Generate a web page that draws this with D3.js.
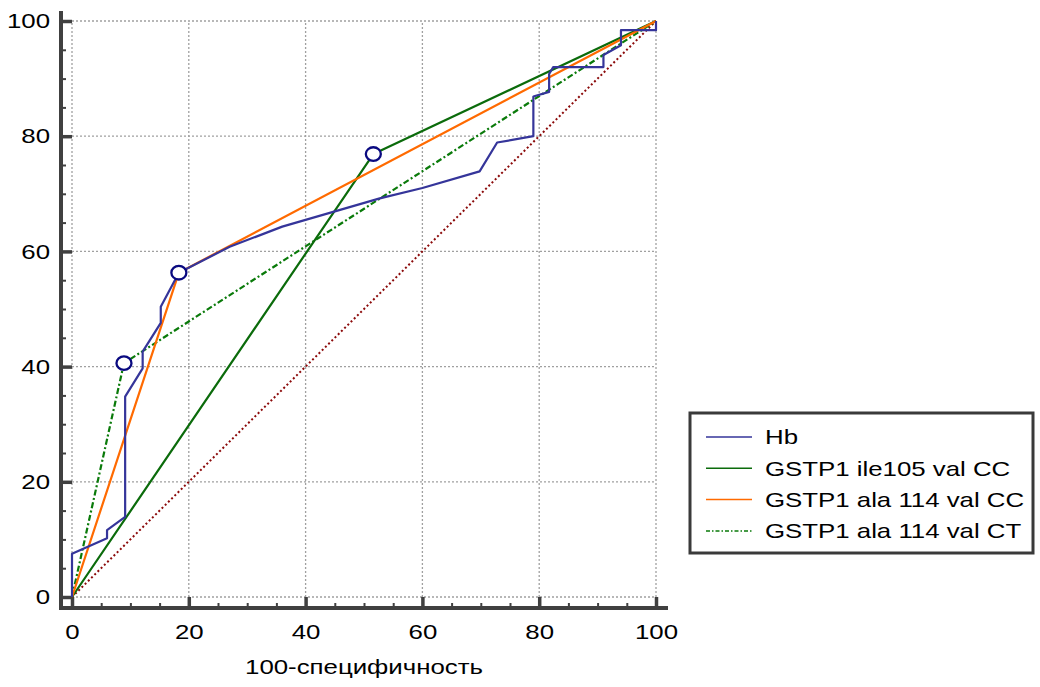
<!DOCTYPE html>
<html>
<head>
<meta charset="utf-8">
<script src="https://cdn.jsdelivr.net/npm/d3@7"></script>
<style>
  html, body { margin: 0; padding: 0; background: #fff; }
  svg { display: block; font-family: "Liberation Sans", Arial, sans-serif; }
</style>
</head>
<body>
<svg id="chart" width="1040" height="687"></svg>
<script>
// ---- data ----
const xTicks = [0, 20, 40, 60, 80, 100];
const yTicks = [0, 20, 40, 60, 80, 100];
const minorTicks = [5, 10, 15, 25, 30, 35, 45, 50, 55, 65, 70, 75, 85, 90, 95];
const xTitle = "100-специфичность";

const seriesNames = ["Hb", "GSTP1 ile105 val CC", "GSTP1 ala 114 val CC", "GSTP1 ala 114 val CT"];
const hbX = [0,0,6,6,9.1,9.1,12.1,12.1,15.2,15.2,18.3,27,36,52.7,60,69.8,72.8,79,79,81.7,81.7,82.4,91,91,94,94,100,100];
const hbY = [0,7.5,10.2,11.6,13.9,34.8,39.7,42.6,47.6,50.4,56.3,60.8,64.3,69.2,71,73.9,78.9,80,86.9,87.7,90.8,92,92,94.1,95.8,98.4,98.4,100];
const ileX = [0, 51.6, 100];
const ileY = [0, 76.9, 100];
const alaCCX = [0, 18.3, 100];
const alaCCY = [0, 56.3, 100];
const alaCTX = [0, 8.9, 100];
const alaCTY = [0, 40.6, 100];
const diagX = [0, 100];
const diagY = [0, 100];

// ---- layout ----
const svg = d3.select("#chart");
const x = d3.scaleLinear().domain([0, 100]).range([72, 656]);
const y = d3.scaleLinear().domain([0, 100]).range([597, 21]);
const axisX = 61, axisY = 608;
const sx = 1.23; // horizontal stretch of text as in the reference
const fs = 21;
const axisColor = "#404040";

// grid
const grid = svg.append("g").attr("stroke", "#a0a0a0").attr("stroke-width", 1.3).attr("stroke-dasharray", "2,2");
xTicks.forEach(v => grid.append("line").attr("x1", x(v)).attr("x2", x(v)).attr("y1", y(0)).attr("y2", y(100)));
yTicks.forEach(v => grid.append("line").attr("y1", y(v)).attr("y2", y(v)).attr("x1", x(0)).attr("x2", x(100)));

// axes
const gy = svg.append("g").attr("transform", `translate(${axisX},0)`)
  .call(d3.axisLeft(y).tickValues(yTicks).tickSize(-11).tickSizeOuter(0).tickPadding(0));
const gyMinor = svg.append("g").attr("transform", `translate(${axisX},0)`)
  .call(d3.axisLeft(y).tickValues(minorTicks).tickSize(-5).tickSizeOuter(0).tickFormat(""));
const gx = svg.append("g").attr("transform", `translate(0,${axisY})`)
  .call(d3.axisBottom(x).tickValues(xTicks).tickSize(-11).tickSizeOuter(0).tickPadding(16));
const gxMinor = svg.append("g").attr("transform", `translate(0,${axisY})`)
  .call(d3.axisBottom(x).tickValues(minorTicks).tickSize(-5).tickSizeOuter(0).tickFormat(""));

[gy, gyMinor, gx, gxMinor].forEach(g => {
  g.select(".domain").remove();
  g.selectAll(".tick line").attr("stroke", axisColor);
});
[gy, gx].forEach(g => g.selectAll(".tick line").attr("stroke-width", 3.5));
[gyMinor, gxMinor].forEach(g => g.selectAll(".tick line").attr("stroke-width", 2));

gy.selectAll(".tick text")
  .attr("x", null)
  .attr("transform", `translate(-11,0) scale(${sx},1)`)
  .attr("font-size", fs).attr("font-family", "Liberation Sans, Arial, sans-serif").attr("fill", "#000");
gx.selectAll(".tick text")
  .attr("transform", `scale(${sx},1)`)
  .attr("font-size", fs).attr("font-family", "Liberation Sans, Arial, sans-serif").attr("fill", "#000");

// axis lines
svg.append("line").attr("x1", axisX).attr("x2", axisX).attr("y1", 11).attr("y2", axisY + 2)
  .attr("stroke", axisColor).attr("stroke-width", 4);
svg.append("line").attr("x1", axisX - 2).attr("x2", 668).attr("y1", axisY).attr("y2", axisY)
  .attr("stroke", axisColor).attr("stroke-width", 4);

// x title
svg.append("text")
  .attr("transform", `translate(${(x(0) + x(100)) / 2},${674}) scale(${sx},1)`)
  .attr("text-anchor", "middle").attr("font-size", fs).attr("fill", "#000")
  .text(xTitle);

// lines
const line = d3.line().x(d => x(d[0])).y(d => y(d[1]));
const zipXY = (xs, ys) => xs.map((v, i) => [v, ys[i]]);

svg.append("path").datum(zipXY(diagX, diagY)).attr("d", line)
  .attr("fill", "none").attr("stroke", "#8b0a0a").attr("stroke-width", 2).attr("stroke-dasharray", "2,2.5");

const series = [
  { name: seriesNames[3], xs: alaCTX, ys: alaCTY, color: "#0a7a0a", dash: "6,2.5,2,2.5" },
  { name: seriesNames[1], xs: ileX, ys: ileY, color: "#0b6b0b", dash: null },
  { name: seriesNames[2], xs: alaCCX, ys: alaCCY, color: "#ff6a00", dash: null },
  { name: seriesNames[0], xs: hbX, ys: hbY, color: "#35359a", dash: null }
];
series.forEach(s => {
  svg.append("path").datum(zipXY(s.xs, s.ys)).attr("d", line)
    .attr("fill", "none").attr("stroke", s.color).attr("stroke-width", 2.2)
    .attr("stroke-linejoin", "round")
    .attr("stroke-dasharray", s.dash);
});

// cut-off circles
const cutX = [ileX[1], alaCCX[1], alaCTX[1]];
const cutY = [ileY[1], alaCCY[1], alaCTY[1]];
svg.selectAll("ellipse.cut").data(cutX).join("ellipse").attr("class", "cut")
  .attr("cx", d => x(d)).attr("cy", (d, i) => y(cutY[i]))
  .attr("rx", 7.5).attr("ry", 6.8)
  .attr("fill", "#fff").attr("stroke", "#0a0a80").attr("stroke-width", 2.3);

// legend
const legend = svg.append("g");
legend.append("rect").attr("x", 690).attr("y", 413).attr("width", 343).attr("height", 140)
  .attr("fill", "#fff").attr("stroke", "#3a3a3a").attr("stroke-width", 3);
const legendItems = [
  { name: seriesNames[0], color: "#35359a", dash: null },
  { name: seriesNames[1], color: "#0b6b0b", dash: null },
  { name: seriesNames[2], color: "#ff6a00", dash: null },
  { name: seriesNames[3], color: "#0a7a0a", dash: "4,2,1.5,2" }
];
legendItems.forEach((d, i) => {
  const ly = 437 + i * 31.3;
  legend.append("line").attr("x1", 706).attr("x2", 752).attr("y1", ly).attr("y2", ly)
    .attr("stroke", d.color).attr("stroke-width", 1.5).attr("stroke-dasharray", d.dash);
  legend.append("text").attr("transform", `translate(765,${ly}) scale(${sx},1)`)
    .attr("dy", "0.35em").attr("font-size", fs).attr("fill", "#000").text(d.name);
});
</script>
</body>
</html>
